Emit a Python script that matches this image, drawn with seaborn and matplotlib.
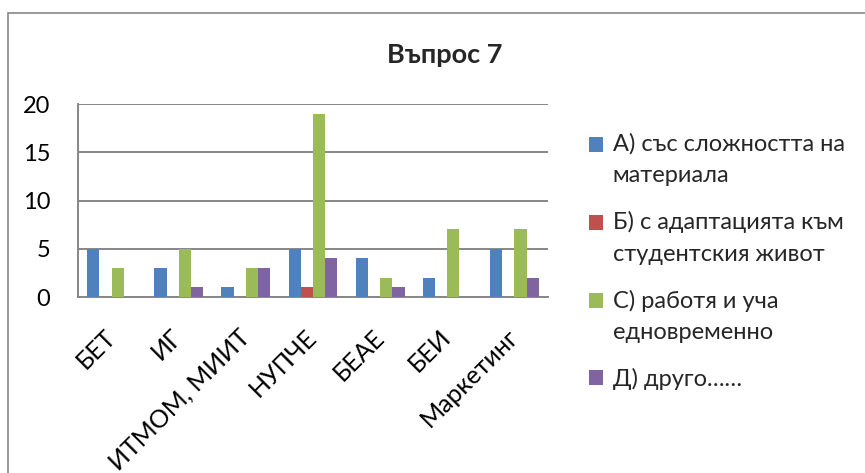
import seaborn as sns
import matplotlib.pyplot as plt
import pandas as pd
from matplotlib.patches import Rectangle
from matplotlib.legend_handler import HandlerPatch

categories = ['БЕТ', 'ИГ', 'ИТМОМ, МИИТ', 'НУПЧЕ', 'БЕАЕ', 'БЕИ', 'Маркетинг']
series_names = [
    'А) със сложността на\nматериала',
    'Б) с адаптацията към\nстудентския живот',
    'С) работя и уча\nедновременно',
    'Д) друго……',
]
a_values = [5, 3, 1, 5, 4, 2, 5]
b_values = [0, 0, 0, 1, 0, 0, 0]
c_values = [3, 5, 3, 19, 2, 7, 7]
d_values = [0, 1, 3, 4, 1, 0, 2]
colors = ['#4F81BD', '#C0504D', '#9BBB59', '#8064A2']

rows = []
for name, vals in zip(series_names, [a_values, b_values, c_values, d_values]):
    for cat, v in zip(categories, vals):
        rows.append({'category': cat, 'series': name, 'value': v})
df = pd.DataFrame(rows)

sns.set_style('white')
plt.rcParams['font.family'] = ['Lato', 'DejaVu Sans']

fig = plt.figure(figsize=(8.65, 4.73), dpi=100)
ax = fig.add_axes([78 / 865, 1 - 297 / 473, 470 / 865, 193 / 473])

sns.barplot(data=df, x='category', y='value', hue='series', palette=colors,
            width=0.727, order=categories, hue_order=series_names,
            saturation=1, ax=ax, linewidth=0, zorder=3)

ax.set_ylim(0, 20)
ax.set_yticks([0, 5, 10, 15, 20])
ax.set_xlim(-0.5, len(categories) - 0.5)
ax.yaxis.grid(True, color='#878787', linewidth=1.4, zorder=0)
ax.set_axisbelow(True)
for side in ['top', 'right']:
    ax.spines[side].set_visible(False)
for side in ['left', 'bottom']:
    ax.spines[side].set_color('#878787')
    ax.spines[side].set_linewidth(1.4)
ax.set_xlabel('')
ax.set_ylabel('')
ax.tick_params(axis='y', length=3, width=1.4, color='#878787', labelsize=17,
               labelcolor='black', pad=17)
ax.tick_params(axis='x', length=0, labelsize=18, labelcolor='black', pad=26)
plt.setp(ax.get_xticklabels(), rotation=45, ha='right', va='center',
         rotation_mode='anchor')

# legend: square handle next to the first line of each entry
leg_font = 17
line_sp = 1.62
old_handles = ax.get_legend().legend_handles
ax.get_legend().remove()


def top_aligned(shift):
    def make(legend, orig_handle, xdescent, ydescent, width, height, fontsize):
        return Rectangle((-xdescent, -ydescent + shift), width, height)
    return HandlerPatch(patch_func=make)


line_step_pt = 19.3 * line_sp * 72 / 100
hmap = {}
for h, name in zip(old_handles, series_names):
    n_lines = name.count('\n') + 1
    hmap[h] = top_aligned(0.5 * (n_lines - 1) * line_step_pt)

leg = fig.legend(old_handles, series_names, loc='upper left',
                 bbox_to_anchor=(568 / 865, 1 - 112 / 473), handler_map=hmap,
                 frameon=False, fontsize=leg_font, handlelength=0.6,
                 handleheight=0.6, handletextpad=0.4, labelspacing=1.05)
for t in leg.get_texts():
    t.set_linespacing(line_sp)

fig.text(445 / 865, 1 - 55 / 473, 'Въпрос 7', ha='center', va='center',
         fontsize=19.5, fontweight='bold')

fig.patches.append(Rectangle((8 / 865, -0.1), 1.2, 0.1 + 1 - 13 / 473,
                             transform=fig.transFigure, fill=False,
                             edgecolor='#878787', linewidth=1.2))

fig.savefig('out.png', dpi=100)
